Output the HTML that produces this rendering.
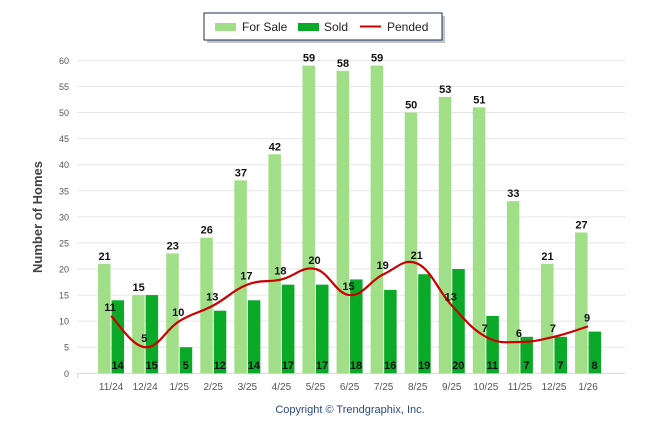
<!DOCTYPE html>
<html><head><meta charset="utf-8"><style>
body{margin:0;background:#fff;font-family:"Liberation Sans",Arial,sans-serif}
svg text{font-family:"Liberation Sans",Arial,sans-serif}
</style></head><body>
<svg id="c" width="646" height="434" viewBox="0 0 646 434" xmlns="http://www.w3.org/2000/svg">
<g>
<rect x="207" y="16" width="238" height="27" fill="#889" opacity="0.5"/>
<rect x="204" y="13" width="238" height="27" fill="#fff" stroke="#1f3050" stroke-width="1"/>
<rect x="215" y="23" width="21" height="8" fill="#a0df88"/>
<text x="242" y="31" font-size="12" fill="#222">For Sale</text>
<rect x="298" y="23" width="21" height="8" fill="#0aa928"/>
<text x="324" y="31" font-size="12" fill="#222">Sold</text>
<line x1="360" y1="26.5" x2="381" y2="26.5" stroke="#c00" stroke-width="2"/>
<text x="387" y="31" font-size="12" fill="#222">Pended</text>
</g>
<text transform="translate(42,217) rotate(-90)" text-anchor="middle" font-size="13" font-weight="bold" fill="#444">Number of Homes</text>
<text x="350" y="413" text-anchor="middle" font-size="11" fill="#2a4a80">Copyright © Trendgraphix, Inc.</text>
<g id="grid"></g><g id="bars"></g><g id="line"></g><g id="labels"></g>
</svg>
<script>
const categories=["11/24","12/24","1/25","2/25","3/25","4/25","5/25","6/25","7/25","8/25","9/25","10/25","11/25","12/25","1/26"];
const forSale=[21,15,23,26,37,42,59,58,59,50,53,51,33,21,27];
const sold=[14,15,5,12,14,17,17,18,16,19,20,11,7,7,8];
const pended=[11,5,10,13,17,18,20,15,19,21,13,7,6,7,9];
const yTicks=[0,5,10,15,20,25,30,35,40,45,50,55,60];
const NS="http://www.w3.org/2000/svg";
const y=v=>373.3-v*5.215;
const xc=i=>77+(i+1)*34.07;
function mk(p,t,a){const e=document.createElementNS(NS,t);for(const k in a)e.setAttribute(k,a[k]);p.appendChild(e);return e;}
const G=document.getElementById('grid'),B=document.getElementById('bars'),L=document.getElementById('line'),T=document.getElementById('labels');
yTicks.forEach(v=>{
 const l=mk(G,'line',{x1:77,x2:625,y1:y(v),y2:y(v),stroke:'#e6e6e6','stroke-width':1});
 
 
 const t=mk(G,'text',{x:69,y:y(v)+3.5,'text-anchor':'end','font-size':9,fill:'#555'});t.textContent=v;
 
 
});
mk(G,'line',{x1:77,x2:625,y1:373.5,y2:373.5,stroke:'#ddd'});
mk(G,'line',{x1:77.5,x2:77.5,y1:373,y2:378,stroke:'#ddd'});
categories.forEach((c,i)=>{
 const x=xc(i);
 const t=mk(G,'text',{x:x,y:390,'text-anchor':'middle','font-size':10,fill:'#555'});t.textContent=c;
 
 
 const r1=mk(B,'rect',{x:x-13,y:y(forSale[i]),width:12.5,height:y(0)-y(forSale[i]),fill:'#a0df88'});
 
 
 const r2=mk(B,'rect',{x:x+0.5,y:y(sold[i]),width:12.5,height:y(0)-y(sold[i]),fill:'#0aa928'});
 
 
 const a=mk(T,'text',{x:x-6.5,y:y(forSale[i])-4,'text-anchor':'middle','font-size':11,'font-weight':'bold',fill:'#111'});a.textContent=forSale[i];
 
 
 const b=mk(T,'text',{x:x+6.5,y:369,'text-anchor':'middle','font-size':11,'font-weight':'bold',fill:'#111'});b.textContent=sold[i];
 
 
 const p=mk(T,'text',{x:x-1,y:y(pended[i])-5,'text-anchor':'middle','font-size':11,'font-weight':'bold',fill:'#111'});p.textContent=pended[i];
 
 
});
const pts=pended.map((v,i)=>[xc(i),y(v)]);
let d='M'+pts[0][0]+','+pts[0][1];
for(let i=0;i<pts.length-1;i++){
 const p0=pts[Math.max(0,i-1)],p1=pts[i],p2=pts[i+1],p3=pts[Math.min(pts.length-1,i+2)];
 const t=0.2;
 d+=' C'+(p1[0]+(p2[0]-p0[0])*t)+','+(p1[1]+(p2[1]-p0[1])*t)+' '+(p2[0]-(p3[0]-p1[0])*t)+','+(p2[1]-(p3[1]-p1[1])*t)+' '+p2[0]+','+p2[1];
}
const pl=mk(L,'path',{d:d,fill:'none',stroke:'#c00','stroke-width':2.2});


</script>
</body></html>
